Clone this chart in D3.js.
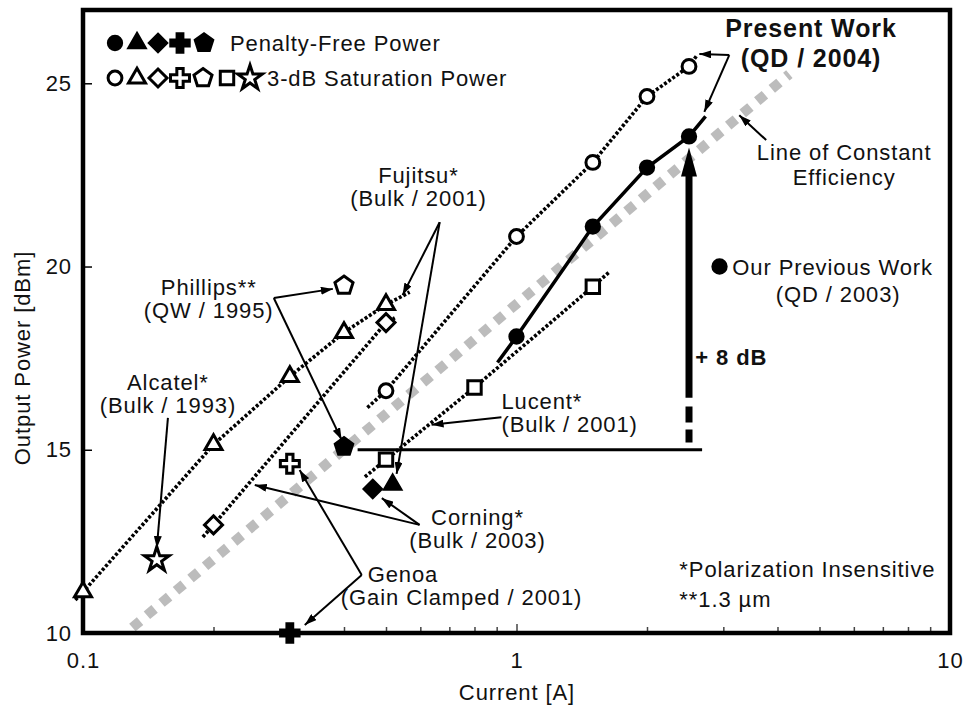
<!DOCTYPE html>
<html>
<head>
<meta charset="utf-8">
<script src="https://cdn.jsdelivr.net/npm/d3@7"></script>
<style>
body { margin: 0; background: #fff; }
text { font-family: "Liberation Sans", Arial, sans-serif; fill: #111; letter-spacing: 0.9px; }
</style>
</head>
<body>
<div id="chart"></div>
<script>
// axis ticks
var xMajor = [0.1, 1, 10];
var yTicks = [10, 15, 20, 25];

// Present work (QD / 2004)
var presentPF = [[1, 18.09], [1.5, 21.09], [2, 22.7], [2.5, 23.55]];
var presentPFLine = [[0.904, 17.38], [1, 18.09], [1.5, 21.09], [2, 22.7], [2.5, 23.55], [2.73, 24.1]];
var presentSat = [[0.5, 16.61], [1, 20.82], [1.5, 22.84], [2, 24.64], [2.5, 25.46]];
var presentSatLine = [[0.453, 16.15], [0.5, 16.61], [1, 20.82], [1.5, 22.84], [2, 24.64], [2.5, 25.46], [2.61, 25.77]];
// Fujitsu (Bulk / 2001)
var fujitsuSat = [[0.1, 11.12], [0.2, 15.14], [0.3, 17.0], [0.4, 18.2], [0.5, 18.96]];
var fujitsuSatLine = [[0.096, 10.9], [0.1, 11.12], [0.2, 15.14], [0.3, 17.0], [0.4, 18.2], [0.5, 18.96], [0.567, 19.3]];
var fujitsuPF = [[0.518, 14.05]];
// Corning (Bulk / 2003)
var corningSat = [[0.2, 12.95], [0.5, 18.47]];
var corningSatLine = [[0.189, 12.62], [0.2, 12.95], [0.5, 18.47], [0.524, 18.6]];
var corningPF = [[0.466, 13.93]];
// Lucent (Bulk / 2001)
var lucentSat = [[0.5, 14.73], [0.8, 16.7], [1.5, 19.45]];
var lucentSatLine = [[0.447, 14.26], [0.5, 14.73], [0.8, 16.7], [1.5, 19.45], [1.64, 19.86]];
// Genoa, Phillips, Alcatel
var genoaSat = [[0.3, 14.62]];
var genoaPF = [[0.3, 10.0]];
var phillipsSat = [[0.4, 19.48]];
var phillipsPF = [[0.4, 15.08]];
var alcatelSat = [[0.148, 12.0]];
// our previous work marker
var previousWork = [[2.94, 20.0]];
// line of constant efficiency
var efficiencyLine = [[0.13, 10.15], [4.26, 25.25]];
// 15 dBm reference and +8 dB gain arrow
var refLine = [[0.43, 15], [2.68, 15]];
var gainArrow = {x: 2.5, from: 15.2, dashTop: 16.42, to: 23.25};

// annotation arrows: start and ends in data units
var pointers = [
  {from: [0.2755, 19.14], to: [[0.377, 19.39], [0.395, 15.27]]},
  {from: [0.665, 21.21], to: [[0.546, 19.22], [0.529, 14.34]]},
  {from: [0.157, 15.87], to: [[0.148, 12.32]]},
  {from: [0.5976, 12.95], to: [[0.249, 14.04], [0.489, 13.68]]},
  {from: [0.4395, 11.58], to: [[0.316, 14.45], [0.3248, 10.22]]},
  {from: [0.923, 15.89], to: [[0.637, 15.68]]},
  {from: [3.096, 25.77], to: [[2.641, 25.8], [2.712, 24.22]]},
  {from: [3.767, 23.45], to: [[3.265, 24.13]]}
];

var labels = [
  {lines: ["Fujitsu*", "(Bulk / 2001)"], x: 0.594, y: 22.28, anchor: "middle"},
  {lines: ["Phillips**", "(QW / 1995)"], x: 0.195, y: 19.22, anchor: "middle"},
  {lines: ["Alcatel*", "(Bulk / 1993)"], x: 0.157, y: 16.63, anchor: "middle"},
  {lines: ["Corning*", "(Bulk / 2003)"], x: 0.813, y: 12.95, anchor: "middle"},
  {lines: ["Genoa"], x: 0.4536, y: 11.39, anchor: "start"},
  {lines: ["(Gain Clamped / 2001)"], x: 0.747, y: 10.76, anchor: "middle"},
  {lines: ["Lucent*", "(Bulk / 2001)"], x: 0.923, y: 16.1, anchor: "start"},
  {lines: ["Present Work", "(QD / 2004)"], x: 4.78, y: 26.26, anchor: "middle", bold: true, size: 25, lh: 30},
  {lines: ["Line of Constant", "Efficiency"], x: 5.70, y: 22.9, anchor: "middle", lh: 25},
  {lines: ["Our Previous Work"], x: 3.146, y: 19.77, anchor: "start"},
  {lines: ["(QD / 2003)"], x: 5.52, y: 19.03, anchor: "middle"},
  {lines: ["+ 8 dB"], x: 2.585, y: 17.31, anchor: "start", bold: true},
  {lines: ["*Polarization Insensitive", "**1.3 µm"], x: 2.375, y: 11.53, anchor: "start", lh: 30}
];

var legendFilled = ["circle", "triangle", "diamond", "cross", "pentagon"];
var legendOpen = ["circle", "triangle", "diamond", "cross", "pentagon", "square", "star"];

var width = 964, height = 707;
var svg = d3.select("#chart").append("svg")
    .attr("width", width)
    .attr("height", height);

var x = d3.scaleLog().domain([0.1, 10]).range([83, 950]);
var y = d3.scaleLinear().domain([10, 27]).range([633, 10]);

var defs = svg.append("defs");
defs.append("marker")
    .attr("id", "head")
    .attr("markerUnits", "userSpaceOnUse")
    .attr("viewBox", "0 0 12 8")
    .attr("markerWidth", 12).attr("markerHeight", 8)
    .attr("refX", 12).attr("refY", 4)
    .attr("orient", "auto")
  .append("path")
    .attr("d", "M0,0L12,4L0,8Z")
    .attr("fill", "#000");

// symbol shapes
function shape(type) {
    var p;
    if (type == "circle") return d3.symbol(d3.symbolCircle, 150)();
    if (type == "square") return d3.symbol(d3.symbolSquare, 180)();
    if (type == "cross") return d3.symbol(d3.symbolCross, 200)();
    if (type == "star") return d3.symbol(d3.symbolStar, 190)();
    if (type == "triangle") {
        var s = 17, h = s * Math.sqrt(3) / 2;
        return "M0," + (-h * 2 / 3) + "L" + (s / 2) + "," + (h / 3) + "L" + (-s / 2) + "," + (h / 3) + "Z";
    }
    if (type == "diamond") return "M0,-9L9,0L0,9L-9,0Z";
    if (type == "pentagon") {
        p = d3.range(5).map(function(k) {
            var a = -Math.PI / 2 + k * 2 * Math.PI / 5;
            return [9.5 * Math.cos(a), 9.5 * Math.sin(a)];
        });
        return "M" + p.join("L") + "Z";
    }
}

// line of constant efficiency
var line = d3.line().x(function(d) { return x(d[0]); }).y(function(d) { return y(d[1]); });
svg.append("path")
    .datum(efficiencyLine)
    .attr("d", line)
    .attr("fill", "none")
    .attr("stroke", "#bcbcbc")
    .attr("stroke-width", 10)
    .attr("stroke-dasharray", "10,9");

// dotted trend lines
[presentSatLine, fujitsuSatLine, corningSatLine, lucentSatLine].forEach(function(l) {
    svg.append("path")
        .datum(l)
        .attr("d", line)
        .attr("fill", "none")
        .attr("stroke", "#000")
        .attr("stroke-width", 3.6)
        .attr("stroke-dasharray", "3,2");
});

// present work solid line
svg.append("path")
    .datum(presentPFLine)
    .attr("d", line)
    .attr("fill", "none")
    .attr("stroke", "#000")
    .attr("stroke-width", 3.5);

// 15 dBm reference
svg.append("path")
    .datum(refLine)
    .attr("d", line)
    .attr("stroke", "#000")
    .attr("stroke-width", 3);

// +8 dB arrow
var gx = x(gainArrow.x);
svg.append("line")
    .attr("x1", gx).attr("x2", gx)
    .attr("y1", y(gainArrow.from)).attr("y2", y(gainArrow.dashTop))
    .attr("stroke", "#000").attr("stroke-width", 7)
    .attr("stroke-dasharray", "13,7,16,9");
svg.append("line")
    .attr("x1", gx).attr("x2", gx)
    .attr("y1", y(gainArrow.dashTop)).attr("y2", y(gainArrow.to) + 26)
    .attr("stroke", "#000").attr("stroke-width", 7);
svg.append("path")
    .attr("d", "M" + gx + "," + y(gainArrow.to) + "L" + (gx + 8) + "," + (y(gainArrow.to) + 29) +
        "L" + (gx - 8) + "," + (y(gainArrow.to) + 29) + "Z")
    .attr("fill", "#000");

// pointer arrows
pointers.forEach(function(p) {
    p.to.forEach(function(t) {
        svg.append("line")
            .attr("x1", x(p.from[0])).attr("y1", y(p.from[1]))
            .attr("x2", x(t[0])).attr("y2", y(t[1]))
            .attr("stroke", "#000")
            .attr("stroke-width", 2)
            .attr("marker-end", "url(#head)");
    });
});

// axes
var minor = [];
[0.1, 1].forEach(function(d) { for (var k = 2; k <= 9; k++) minor.push(d * k); });
var xAxis = svg.append("g")
    .attr("transform", "translate(0,633)")
    .call(d3.axisBottom(x).tickValues(xMajor.concat(minor)).tickSize(-6).tickPadding(19)
        .tickFormat(function(d) { return xMajor.indexOf(d) >= 0 ? d3.format("")(d) : ""; }));
xAxis.select(".domain").remove();
xAxis.selectAll(".tick line").attr("stroke", "#444").attr("stroke-width", 1.5)
    .attr("y2", function(d) { return xMajor.indexOf(d) >= 0 ? -9 : -6; });
xAxis.selectAll("text").style("font-size", "22px").attr("fill", "#111");

var yAxis = svg.append("g")
    .attr("transform", "translate(83,0)")
    .call(d3.axisLeft(y).tickValues(yTicks).tickSize(-9).tickPadding(11));
yAxis.select(".domain").remove();
yAxis.selectAll(".tick line").attr("stroke", "#000").attr("stroke-width", 1.5);
yAxis.selectAll("text").style("font-size", "22px").attr("fill", "#111");

// frame
svg.append("rect")
    .attr("x", 83).attr("y", 10)
    .attr("width", 950 - 83).attr("height", 633 - 10)
    .attr("fill", "none")
    .attr("stroke", "#000")
    .attr("stroke-width", 4.5);

// markers
function drawMarks(data, type, filled) {
    svg.selectAll(null)
        .data(data)
        .enter().append("path")
        .attr("d", shape(type))
        .attr("transform", function(d) { return "translate(" + x(d[0]) + "," + y(d[1]) + ")"; })
        .attr("fill", filled ? "#000" : "#fff")
        .attr("stroke", "#000")
        .attr("stroke-width", filled ? 2.5 : 3);
}
drawMarks(presentSat, "circle", false);
drawMarks(presentPF, "circle", true);
drawMarks(fujitsuSat, "triangle", false);
drawMarks(fujitsuPF, "triangle", true);
drawMarks(corningSat, "diamond", false);
drawMarks(corningPF, "diamond", true);
drawMarks(lucentSat, "square", false);
drawMarks(genoaSat, "cross", false);
drawMarks(genoaPF, "cross", true);
drawMarks(phillipsSat, "pentagon", false);
drawMarks(phillipsPF, "pentagon", true);
drawMarks(alcatelSat, "star", false);
drawMarks(previousWork, "circle", true);

// annotation texts
labels.forEach(function(l) {
    var t = svg.append("text")
        .attr("x", x(l.x)).attr("y", y(l.y))
        .attr("text-anchor", l.anchor)
        .style("font-size", (l.size || 22) + "px")
        .style("font-weight", l.bold ? "bold" : "normal");
    l.lines.forEach(function(s, i) {
        t.append("tspan")
            .attr("x", x(l.x))
            .attr("dy", i ? (l.lh || 23) : 0)
            .text(s);
    });
});

// legend
var leg = svg.append("g");
var filledX = [115, 137, 158, 180, 204];
var openX = [115, 137, 158, 180, 203, 227, 250];
legendFilled.forEach(function(s, i) {
    leg.append("path").attr("d", shape(s))
        .attr("transform", "translate(" + filledX[i] + ",43)")
        .attr("fill", "#000").attr("stroke", "#000").attr("stroke-width", 2.5);
});
legendOpen.forEach(function(s, i) {
    leg.append("path").attr("d", shape(s))
        .attr("transform", "translate(" + openX[i] + ",78)")
        .attr("fill", "#fff").attr("stroke", "#000").attr("stroke-width", 3);
});
leg.append("text").attr("x", 230).attr("y", 51).style("font-size", "22px").text("Penalty-Free Power");
leg.append("text").attr("x", 267).attr("y", 86).style("font-size", "22px").text("3-dB Saturation Power");

// axis titles
svg.append("text")
    .attr("x", 517).attr("y", 700)
    .attr("text-anchor", "middle")
    .style("font-size", "22px")
    .text("Current [A]");
svg.append("text")
    .attr("transform", "translate(30,358) rotate(-90)")
    .attr("text-anchor", "middle")
    .style("font-size", "22px")
    .text("Output Power [dBm]");
</script>
</body>
</html>
